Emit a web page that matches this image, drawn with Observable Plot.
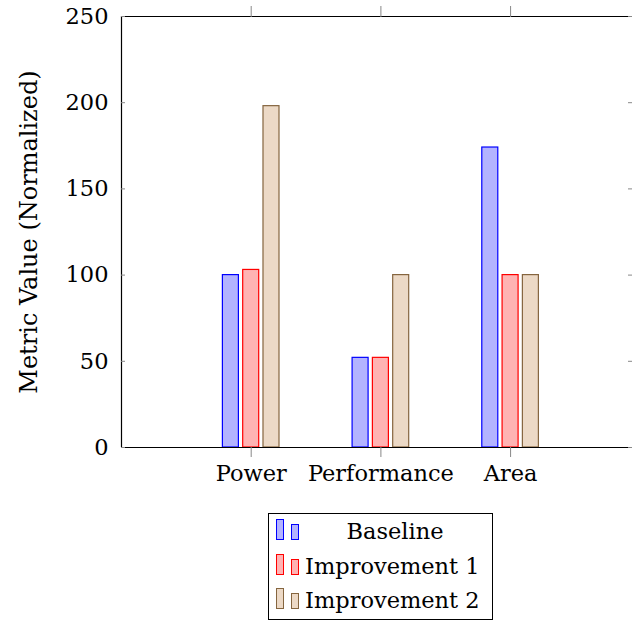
<!DOCTYPE html>
<html>
<head>
<meta charset="utf-8">
<script src="https://cdn.jsdelivr.net/npm/d3@7"></script>
<script src="https://cdn.jsdelivr.net/npm/@observablehq/plot@0.6"></script>
<style>
  html, body { margin: 0; padding: 0; background: #fff; }
  #wrap { position: relative; width: 632px; height: 622px; font-family: "DejaVu Serif", serif; }
  #legend { position: absolute; left: 268px; top: 513px; width: 223px; height: 105px; border: 1px solid #000; background: #fff; }
  .row { position: absolute; left: 0; width: 223px; height: 34px; }
  .ic { position: absolute; width: 6px; border: 1px solid; }
  .lab { position: absolute; font-size: 22.5px; color: #000; white-space: nowrap; line-height: 1; }
</style>
</head>
<body>
<div id="wrap"><div id="chart"></div><div id="legend"></div></div>
<script>
const categories = ["Power", "Performance", "Area"];
const seriesNames = ["Baseline", "Improvement 1", "Improvement 2"];
const baseline = [100, 52, 174];
const improvement1 = [103, 52, 100];
const improvement2 = [198, 100, 100];
const yTicks = [0, 50, 100, 150, 200, 250];
const fills = ["#b3b3ff", "#ffb3b3", "#ecd9c6"];
const strokes = ["#0000ff", "#ff0000", "#85653f"];

const seriesValues = [baseline, improvement1, improvement2];
const barHalf = 0.0617, barStep = 0.1565;
const barMarks = seriesValues.map((vals, s) => {
  const rows = vals.map((v, i) => ({pos: i + 1, value: v}));
  return Plot.rectY(rows, {
    x1: d => d.pos + (s - 1) * barStep - barHalf,
    x2: d => d.pos + (s - 1) * barStep + barHalf,
    y: "value",
    fill: fills[s], stroke: strokes[s], strokeWidth: 1.2
  });
});

const blank = () => "";
const chart = Plot.plot({
  width: 632, height: 500,
  marginLeft: 121, marginRight: 0, marginTop: 16, marginBottom: 53,
  x: {domain: [0, 3.94]},
  y: {domain: [0, 250]},
  style: {fontFamily: "'DejaVu Serif', serif", fontSize: "22.5px", color: "#000", background: "white", overflow: "visible"},
  marks: [
    ...barMarks,
    Plot.ruleY([0, 250], {stroke: "#000", strokeWidth: 1.2}),
    Plot.ruleX([0], {stroke: "#000", strokeWidth: 1.2}),
    Plot.axisX({anchor: "bottom", ticks: [1, 2, 3], tickFormat: i => categories[i - 1], tickSize: 10, tickPadding: 8, stroke: "#888", fill: "#000", label: null}),
    Plot.axisX({anchor: "top", ticks: [1, 2, 3], tickFormat: blank, tickSize: 11, stroke: "#888", label: null}),
    Plot.axisY({anchor: "left", ticks: yTicks, tickSize: -4, tickPadding: 17, stroke: "#888", fill: "#000",
      label: "Metric Value (Normalized)", labelAnchor: "center", labelArrow: "none", labelOffset: 102, fontSize: 22.5}),
    Plot.axisY({anchor: "right", ticks: yTicks, tickFormat: blank, tickSize: -5, stroke: "#888", label: null})
  ]
});
document.getElementById("chart").appendChild(chart);
// larger axis title
chart.querySelectorAll("g[aria-label='y-axis label'] text").forEach(t => t.setAttribute("font-size", "24"));

// legend
const legend = document.getElementById("legend");
seriesNames.forEach((name, s) => {
  const row = document.createElement("div");
  row.className = "row";
  row.style.top = (3 + s * 34.5) + "px";
  const a = document.createElement("span");
  a.className = "ic"; a.style.left = "7px"; a.style.top = "2px"; a.style.height = "19px";
  a.style.background = fills[s]; a.style.borderColor = strokes[s];
  const b = document.createElement("span");
  b.className = "ic"; b.style.left = "22px"; b.style.top = "7px"; b.style.height = "14px";
  b.style.background = fills[s]; b.style.borderColor = strokes[s];
  const t = document.createElement("span");
  t.className = "lab"; t.textContent = name;
  if (s === 0) { t.style.left = "36px"; t.style.width = "180px"; t.style.textAlign = "center"; }
  else { t.style.left = "36px"; }
  t.style.top = "3px";
  row.appendChild(a); row.appendChild(b); row.appendChild(t);
  legend.appendChild(row);
});
</script>
</body>
</html>
